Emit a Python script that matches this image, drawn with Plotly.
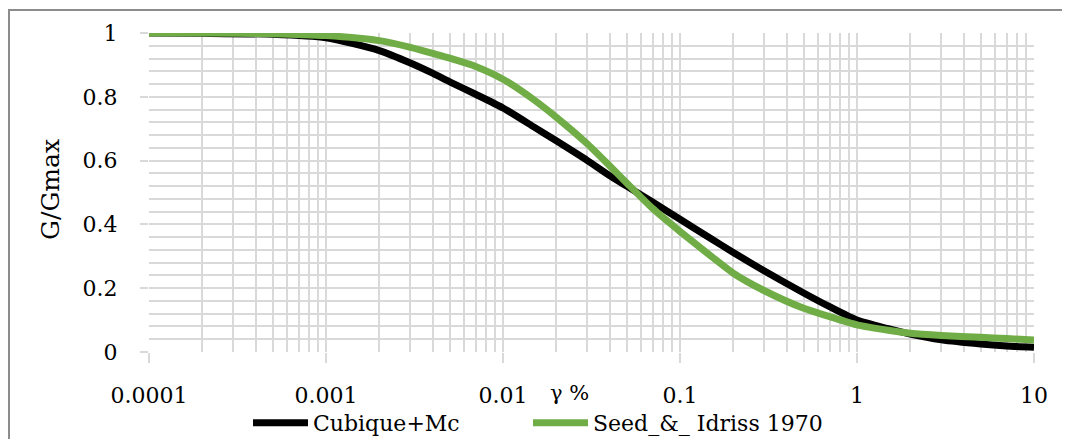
import plotly.graph_objects as go

strain = [0.0001, 0.0002, 0.0005, 0.001, 0.002, 0.003, 0.004, 0.005, 0.007, 0.01,
          0.015, 0.02, 0.03, 0.04, 0.05, 0.07, 0.1, 0.15, 0.2, 0.3, 0.5, 0.7, 1,
          1.5, 2, 3, 5, 7, 10]
cubique = [1.0, 0.999, 0.996, 0.985, 0.945, 0.906, 0.874, 0.847, 0.808, 0.765,
           0.705, 0.662, 0.600, 0.553, 0.520, 0.470, 0.416, 0.355, 0.312, 0.254,
           0.185, 0.142, 0.100, 0.073, 0.056, 0.038, 0.025, 0.019, 0.015]
seed_idriss = [1.0, 1.0, 0.998, 0.992, 0.976, 0.955, 0.936, 0.921, 0.895, 0.855,
               0.790, 0.736, 0.652, 0.584, 0.530, 0.450, 0.378, 0.300, 0.247, 0.192,
               0.137, 0.111, 0.085, 0.068, 0.059, 0.052, 0.046, 0.042, 0.038]

FONT = "DejaVu Serif, Liberation Serif, serif"
GRID = "#d9d9d9"

# page has an 8px body margin: plot area at page x 149..1034, y 33..352
fig = go.Figure()
fig.add_trace(go.Scatter(x=strain, y=cubique, mode="lines", name="Cubique+Mc",
                         legend="legend",
                         line=dict(color="#000000", width=7, shape="spline", smoothing=0.6)))
fig.add_trace(go.Scatter(x=strain, y=seed_idriss, mode="lines", name="Seed_&_ Idriss 1970",
                         legend="legend2",
                         line=dict(color="#70ad47", width=7, shape="spline", smoothing=0.6)))

legend_common = dict(orientation="h", y=(352 - 423) / 319, yanchor="middle", xanchor="left",
                     font=dict(family=FONT, size=22), itemwidth=55,
                     bgcolor="rgba(0,0,0,0)")

fig.update_layout(
    width=1062, height=431,
    margin=dict(l=141, r=36, t=25, b=87, autoexpand=False),
    paper_bgcolor="white", plot_bgcolor="white",
    font=dict(family=FONT, size=22, color="#000000"),
    showlegend=True,
    legend=dict(x=(248 - 149) / 885, **legend_common),
    legend2=dict(x=(528 - 149) / 885, **legend_common),
    xaxis=dict(type="log", range=[-4, 1], dtick=1, tickformat="~g",
               showgrid=True, gridcolor=GRID, gridwidth=2, automargin=False,
               minor=dict(dtick="D1", showgrid=True, gridcolor=GRID, gridwidth=2, ticks=""),
               ticks="outside", ticklen=10, tickwidth=2, tickcolor=GRID,
               ticklabelstandoff=14, zeroline=False, showline=False,
               tickfont=dict(family=FONT, size=22)),
    yaxis=dict(range=[0, 1], tickvals=[0, 0.2, 0.4, 0.6, 0.8, 1],
               ticktext=["0", "0.2", "0.4", "0.6", "0.8", "1"],
               showgrid=True, gridcolor=GRID, gridwidth=2, automargin=False,
               minor=dict(tickvals=[i * 0.04 for i in range(26)], showgrid=True,
                          gridcolor=GRID, gridwidth=2, ticks=""),
               ticks="outside", ticklen=8, tickwidth=2, tickcolor=GRID,
               ticklabelstandoff=18, zeroline=False, showline=False,
               tickfont=dict(family=FONT, size=22)),
    shapes=[dict(type="rect", xref="paper", yref="paper",
                 x0=(9 - 149) / 885, x1=(1080 - 149) / 885,
                 y0=(352 - 450) / 319, y1=(352 - 10) / 319,
                 line=dict(color="#8c8c8c", width=2), fillcolor="rgba(0,0,0,0)", layer="below")],
    annotations=[
        dict(text="γ %", xref="paper", yref="paper",
             x=(569 - 149) / 885, y=(352 - 393) / 319,
             xanchor="center", yanchor="middle", showarrow=False,
             font=dict(family=FONT, size=21)),
        dict(text="G/Gmax", xref="paper", yref="paper", textangle=-90,
             x=(50 - 149) / 885, y=(352 - 190) / 319,
             xanchor="center", yanchor="middle", showarrow=False,
             font=dict(family=FONT, size=25)),
    ],
)

fig.write_html("out.html")
